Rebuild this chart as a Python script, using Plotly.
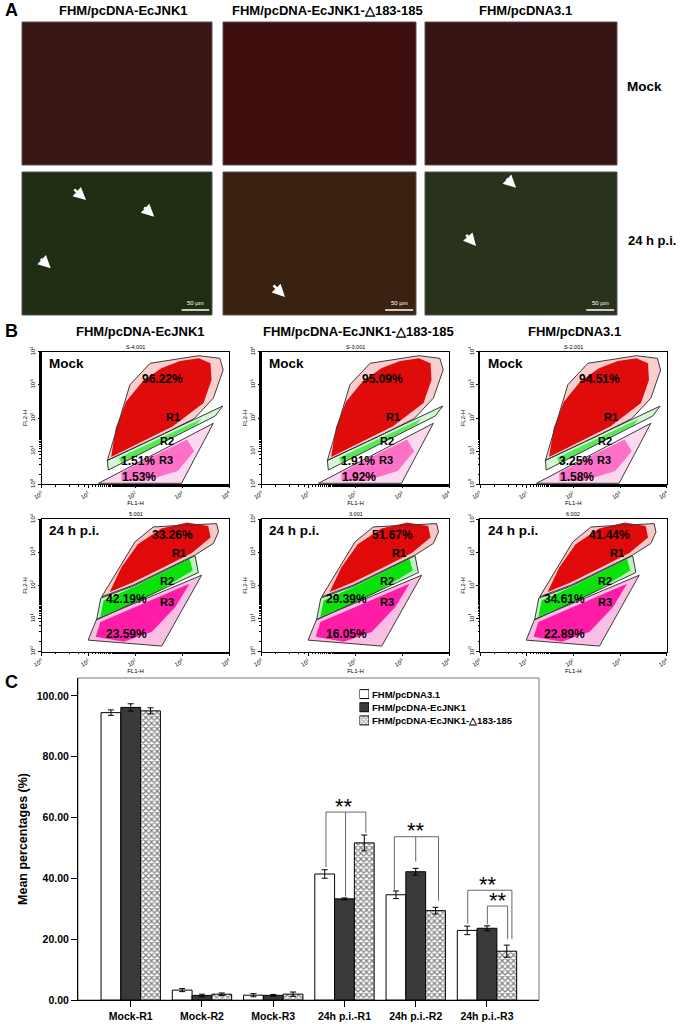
import plotly.graph_objects as go

W, H = 680, 1024
FONT = "Liberation Sans"


def fx(p):
    return p / W


def fy(p):
    return 1 - p / H


# ---------------- panel C: mean percentages ----------------
CATEGORIES = ["Mock-R1", "Mock-R2", "Mock-R3", "24h p.i.-R1", "24h p.i.-R2", "24h p.i.-R3"]
PCDNA31 = [94.51, 3.25, 1.58, 41.44, 34.61, 22.89]
PCDNA31_ERR = [0.9, 0.5, 0.5, 1.4, 1.25, 1.4]
ECJNK1 = [96.22, 1.51, 1.53, 33.26, 42.19, 23.59]
ECJNK1_ERR = [1.2, 0.4, 0.3, 0.3, 1.1, 0.8]
DELTA = [95.09, 1.91, 1.92, 51.67, 29.39, 16.05]
DELTA_ERR = [1.0, 0.4, 0.7, 2.6, 1.1, 2.0]
SERIES_NAMES = ["FHM/pcDNA3.1", "FHM/pcDNA-EcJNK1", "FHM/pcDNA-EcJNK1-△183-185"]

# significance brackets (category index + offset, heights in %)
SIG_GROUP = [3, 4, 5, 5]
SIG_LEFT = [-0.26, -0.30, -0.27, 0.005]
SIG_RIGHT = [0.30, 0.32, 0.35, 0.29]
SIG_MID = [0.015, 0.0, None, None]
SIG_TOP = [61.8, 53.7, 36.1, 30.9]
SIG_LEFT_END = [43.7, 36.2, 25.2, 24.9]
SIG_RIGHT_END = [55.0, 32.7, 20.0, 20.0]
SIG_MID_END = [34.0, 45.5, None, None]
SIG_STAR_X = [0.0, 0.0, 0.02, 0.15]

# ---------------- panel B: flow cytometry ----------------
GROUPS = ["FHM/pcDNA-EcJNK1", "FHM/pcDNA-EcJNK1-△183-185", "FHM/pcDNA3.1"]
MOCK_IDS = ["S-4.001", "S-3.001", "S-2.001"]
PI_IDS = ["5.001", "3.001", "6.002"]
MOCK_R1_PCT = [96.22, 95.09, 94.51]
MOCK_R2_PCT = [1.51, 1.91, 3.25]
MOCK_R3_PCT = [1.53, 1.92, 1.58]
PI_R1_PCT = [33.26, 51.67, 41.44]
PI_R2_PCT = [42.19, 29.39, 34.61]
PI_R3_PCT = [23.59, 16.05, 22.89]

# gates and clouds, in decades (log10 of FL1-H / FL2-H)
MOCK_R1_X = [1.40, 1.88, 2.31, 3.35, 3.80, 3.87, 3.66, 3.25, 2.50, 1.40]
MOCK_R1_Y = [0.72, 3.00, 3.65, 3.88, 3.80, 3.45, 2.60, 1.98, 1.45, 0.72]
MOCK_R2_X = [1.40, 3.86, 3.70, 1.42, 1.40]
MOCK_R2_Y = [0.72, 2.36, 2.06, 0.43, 0.72]
MOCK_R3_X = [1.21, 2.98, 3.66, 1.21]
MOCK_R3_Y = [0.03, 0.03, 1.84, 0.03]
MOCK_RED_X = [1.48, 1.58, 1.80, 2.15, 2.55, 2.95, 3.35, 3.60, 3.62, 3.45, 2.80, 2.30, 1.80, 1.48]
MOCK_RED_Y = [0.82, 1.70, 2.50, 3.10, 3.50, 3.72, 3.80, 3.65, 3.15, 2.45, 1.75, 1.40, 1.05, 0.82]
MOCK_GREEN_X = [1.65, 2.40, 3.40, 3.30, 2.40, 1.70]
MOCK_GREEN_Y = [0.80, 1.30, 1.98, 1.80, 1.15, 0.62]
MOCK_PINK_X = [1.70, 2.30, 3.10, 3.25, 2.90, 2.20, 1.70]
MOCK_PINK_Y = [0.35, 0.80, 1.35, 1.00, 0.40, 0.10, 0.10]

PI_R1_X = [1.28, 1.99, 2.38, 3.73, 3.77, 3.66, 3.27, 1.95, 1.28]
PI_R1_Y = [1.66, 3.32, 3.77, 3.87, 3.62, 3.27, 2.92, 2.01, 1.66]
PI_R2_X = [1.26, 1.95, 3.27, 3.34, 1.17, 1.26]
PI_R2_Y = [1.62, 1.98, 2.90, 2.39, 0.96, 1.62]
PI_R3_X = [0.99, 2.56, 3.41, 1.17, 0.99]
PI_R3_Y = [0.35, 0.17, 2.31, 0.98, 0.35]
PI_RED_X = [1.45, 1.70, 2.05, 2.55, 3.10, 3.55, 3.60, 3.20, 2.60, 1.95, 1.45]
PI_RED_Y = [1.80, 2.55, 3.25, 3.72, 3.90, 3.80, 3.45, 2.98, 2.55, 2.10, 1.80]
PI_GREEN_X = [1.32, 1.95, 3.15, 3.22, 2.40, 1.25]
PI_GREEN_Y = [1.55, 1.95, 2.80, 2.45, 1.75, 1.05]
PI_PINK_X = [1.25, 2.40, 3.15, 2.85, 2.35, 1.75, 1.15]
PI_PINK_Y = [0.90, 1.60, 2.05, 1.35, 0.60, 0.30, 0.45]

# label positions (decades): R1 %, R2 %, R3 %, "R1", "R2", "R3"
MOCK_LABEL_X = [2.57, 2.05, 2.07, 2.81, 2.67, 2.65]
MOCK_LABEL_Y = [3.18, 0.69, 0.23, 2.04, 1.32, 0.73]
PI_LABEL_X = [2.78, 1.81, 1.81, 2.93, 2.68, 2.68]
PI_LABEL_Y = [3.54, 1.58, 0.54, 2.99, 2.14, 1.51]

# ---------------- panel A: micrographs ----------------
IMG_COLORS_MOCK = ["#3a1515", "#3e0d0d", "#381414"]
IMG_COLORS_PI = ["#1f2d13", "#3a2211", "#29321a"]
ARROW_IMAGE = [0, 0, 0, 1, 2, 2]
ARROW_TAIL_X = [0.267, 0.635, 0.091, 0.254, 0.417, 0.208]
ARROW_TAIL_Y = [0.888, 0.762, 0.403, 0.217, 0.963, 0.571]
ARROW_HEAD_X = [0.337, 0.696, 0.151, 0.321, 0.474, 0.266]
ARROW_HEAD_Y = [0.804, 0.687, 0.327, 0.126, 0.890, 0.483]

fig = go.Figure()
annotations = []
shapes = []
layout_axes = {}

# ---- panel C bars ----
BAR_COLORS = ["white", "#3a3a3a", "white"]
BAR_PATTERNS = ["", "", "x"]
for name, vals, errs, col, pat in zip(SERIES_NAMES, [PCDNA31, ECJNK1, DELTA],
                                      [PCDNA31_ERR, ECJNK1_ERR, DELTA_ERR], BAR_COLORS, BAR_PATTERNS):
    fig.add_trace(go.Bar(
        x=CATEGORIES, y=vals, name=name, showlegend=False,
        marker=dict(color=col, line=dict(color="black", width=1),
                    pattern=dict(shape=pat, size=4, solidity=0.5, fgcolor="black", bgcolor="white")),
        error_y=dict(type="data", array=errs, color="black", thickness=1, width=3),
        xaxis="x", yaxis="y", hoverinfo="skip"))

for i in range(len(SIG_GROUP)):
    g = SIG_GROUP[i]
    xl, xr = g + SIG_LEFT[i], g + SIG_RIGHT[i]
    line = dict(color="#666", width=1)
    shapes.append(dict(type="line", xref="x", yref="y", x0=xl, x1=xr, y0=SIG_TOP[i], y1=SIG_TOP[i], line=line))
    shapes.append(dict(type="line", xref="x", yref="y", x0=xl, x1=xl, y0=SIG_TOP[i], y1=SIG_LEFT_END[i], line=line))
    shapes.append(dict(type="line", xref="x", yref="y", x0=xr, x1=xr, y0=SIG_TOP[i], y1=SIG_RIGHT_END[i], line=line))
    if SIG_MID[i] is not None:
        xm = g + SIG_MID[i]
        shapes.append(dict(type="line", xref="x", yref="y", x0=xm, x1=xm, y0=SIG_TOP[i], y1=SIG_MID_END[i], line=line))
    annotations.append(dict(text="**", xref="x", yref="y", x=g + SIG_STAR_X[i], y=SIG_TOP[i] - 2.8,
                            xanchor="center", yanchor="bottom", showarrow=False,
                            font=dict(family=FONT, size=22, color="black")))

shapes.append(dict(type="rect", xref="x domain", yref="y domain", x0=0, x1=1, y0=0, y1=1,
                   line=dict(color="#777", width=1), layer="below"))

layout_axes["xaxis"] = dict(
    domain=[fx(78), fx(539)], anchor="y", type="category", categoryorder="array",
    categoryarray=CATEGORIES, range=[-0.74, 5.73], showline=True, linecolor="black",
    linewidth=1, ticks="outside", ticklen=6, tickcolor="black", showgrid=False, automargin=False,
    tickfont=dict(family=FONT, size=10.5, color="black", weight="bold"))
layout_axes["yaxis"] = dict(
    domain=[fy(1000), fy(678)], anchor="x", range=[0, 105.9], dtick=20, tickformat=".2f",
    showline=True, linecolor="black", linewidth=1, ticks="outside", ticklen=6,
    tickcolor="black", showgrid=False, zeroline=False, automargin=False,
    tickfont=dict(family=FONT, size=10.5, color="black", weight="bold"),
    title=dict(text="Mean percentages (%)", standoff=6,
               font=dict(family=FONT, size=12.5, color="black", weight="bold")))

# manual legend: a tiny bar axis holding the three swatches
LEG = 14
fig.add_trace(go.Bar(
    x=[1, 1, 1], y=[0, 1, 2], orientation="h", width=0.68, showlegend=False, hoverinfo="skip",
    marker=dict(color=BAR_COLORS, line=dict(color="black", width=1),
                pattern=dict(shape=BAR_PATTERNS, size=3, solidity=0.5, fgcolor="black", bgcolor="white")),
    xaxis="x%d" % LEG, yaxis="y%d" % LEG))
blank = dict(showticklabels=False, ticks="", showgrid=False, zeroline=False, showline=False,
             automargin=False, fixedrange=True)
layout_axes["xaxis%d" % LEG] = dict(domain=[fx(359.5), fx(369)], anchor="y%d" % LEG, range=[0, 1], **blank)
layout_axes["yaxis%d" % LEG] = dict(domain=[fy(727), fy(687.5)], anchor="x%d" % LEG, range=[2.5, -0.5], **blank)
for k, name in enumerate(SERIES_NAMES):
    annotations.append(dict(text=name, xref="paper", yref="y%d" % LEG, x=fx(370.5), y=k,
                            xanchor="left", yanchor="middle", showarrow=False,
                            font=dict(family=FONT, size=9.5, color="black", weight="bold")))

# ---- panel B flow plots ----
B_COLS = [(41.7, 229.3), (261.7, 449.3), (480.0, 666.7)]
B_ROWS = [(351.7, 484.3), (519.3, 651.7)]
decade_vals = [1, 10, 100, 1000, 10000]
decade_text = ["10<sup>%d</sup>" % k for k in range(5)]


def dec(vs):
    return [10 ** v for v in vs]


def poly(xs, ys, n, fill=None, line=None, width=0.0):
    return go.Scatter(
        x=dec(xs), y=dec(ys), mode="lines", fill="toself" if fill else None,
        fillcolor=fill, line=dict(color=line or "rgba(0,0,0,0)", width=width),
        xaxis="x%d" % n, yaxis="y%d" % n, showlegend=False, hoverinfo="skip")


templates = [
    dict(r1=(MOCK_R1_X, MOCK_R1_Y), r2=(MOCK_R2_X, MOCK_R2_Y), r3=(MOCK_R3_X, MOCK_R3_Y),
         red=(MOCK_RED_X, MOCK_RED_Y), green=(MOCK_GREEN_X, MOCK_GREEN_Y), pink=(MOCK_PINK_X, MOCK_PINK_Y),
         lx=MOCK_LABEL_X, ly=MOCK_LABEL_Y, pct=[MOCK_R1_PCT, MOCK_R2_PCT, MOCK_R3_PCT],
         ids=MOCK_IDS, tag="Mock", halo=(0.22, 0.2, 0.18), core=(0.95, 0.6, 0.5)),
    dict(r1=(PI_R1_X, PI_R1_Y), r2=(PI_R2_X, PI_R2_Y), r3=(PI_R3_X, PI_R3_Y),
         red=(PI_RED_X, PI_RED_Y), green=(PI_GREEN_X, PI_GREEN_Y), pink=(PI_PINK_X, PI_PINK_Y),
         lx=PI_LABEL_X, ly=PI_LABEL_Y, pct=[PI_R1_PCT, PI_R2_PCT, PI_R3_PCT],
         ids=PI_IDS, tag="24 h p.i.", halo=(0.25, 0.3, 0.3), core=(0.95, 0.95, 0.9)),
]

for r, t in enumerate(templates):
    for c in range(3):
        n = 2 + r * 3 + c
        ha, hb, hc = t["halo"]
        ca, cb, cc = t["core"]
        fig.add_trace(poly(*t["r1"], n, fill="rgba(230,30,30,%.2f)" % ha))
        fig.add_trace(poly(*t["r2"], n, fill="rgba(40,220,40,%.2f)" % hb))
        fig.add_trace(poly(*t["r3"], n, fill="rgba(240,40,170,%.2f)" % hc))
        fig.add_trace(poly(*t["red"], n, fill="rgba(222,0,0,%.2f)" % ca))
        fig.add_trace(poly(*t["green"], n, fill="rgba(0,225,0,%.2f)" % cb))
        fig.add_trace(poly(*t["pink"], n, fill="rgba(255,10,160,%.2f)" % cc))
        for key in ("r1", "r2", "r3"):
            fig.add_trace(poly(*t[key], n, line="#3a3a3a", width=1))

        x0, x1 = B_COLS[c]
        y0, y1 = B_ROWS[r]
        tick = dict(tickfont=dict(family=FONT, size=6, color="black"), ticks="outside",
                    ticklen=3, tickcolor="black", showgrid=False, zeroline=False,
                    showline=True, linecolor="black", linewidth=1, mirror=True, automargin=False,
                    minor=dict(ticks="outside", ticklen=1.5, tickcolor="black", showgrid=False))
        layout_axes["xaxis%d" % n] = dict(
            domain=[fx(x0), fx(x1)], anchor="y%d" % n, type="log", range=[0, 4],
            tickvals=decade_vals, ticktext=decade_text, tickangle=-30,
            title=dict(text="FL1-H", standoff=0, font=dict(family=FONT, size=6, color="black")), **tick)
        layout_axes["yaxis%d" % n] = dict(
            domain=[fy(y1), fy(y0)], anchor="x%d" % n, type="log", range=[0, 4],
            tickvals=decade_vals, ticktext=decade_text, tickangle=-90,
            title=dict(text="FL2-H", standoff=0, font=dict(family=FONT, size=6, color="black")), **tick)

        xr, yr = "x%d" % n, "y%d" % n
        labels = ["%.2f%%" % t["pct"][0][c], "%.2f%%" % t["pct"][1][c], "%.2f%%" % t["pct"][2][c],
                  "R1", "R2", "R3"]
        for k, txt in enumerate(labels):
            annotations.append(dict(text=txt, xref=xr, yref=yr, x=t["lx"][k], y=t["ly"][k],
                                    showarrow=False, xanchor="center", yanchor="middle",
                                    font=dict(family=FONT, size=12 if k < 3 else 11,
                                              color="black", weight="bold")))
        annotations.append(dict(text=t["tag"], xref=xr + " domain", yref=yr + " domain",
                                x=0.03, y=0.985, xanchor="left", yanchor="top", showarrow=False,
                                font=dict(family=FONT, size=13.5, color="black", weight="bold")))
        annotations.append(dict(text=t["ids"][c], xref=xr + " domain", yref=yr + " domain",
                                x=0.5, y=1.0, xanchor="center", yanchor="bottom", showarrow=False,
                                font=dict(family=FONT, size=5.5, color="black")))

B_TITLE_X = [140, 358, 574]
for c, g in enumerate(GROUPS):
    annotations.append(dict(text=g, xref="paper", yref="paper", x=fx(B_TITLE_X[c]), y=fy(331),
                            xanchor="center", yanchor="middle", showarrow=False,
                            font=dict(family=FONT, size=13, color="black", weight="bold")))

# ---- panel A micrographs ----
A_COLS = [(22, 212), (223, 416), (425, 617)]
A_ROWS = [(22, 165), (172, 315)]
A_TITLE_X = [123, 327, 525]
for r in range(2):
    for c in range(3):
        n = 8 + r * 3 + c
        x0, x1 = A_COLS[c]
        y0, y1 = A_ROWS[r]
        fig.add_trace(go.Scatter(x=[None], y=[None], mode="markers", showlegend=False,
                                 hoverinfo="skip", xaxis="x%d" % n, yaxis="y%d" % n))
        layout_axes["xaxis%d" % n] = dict(domain=[fx(x0), fx(x1)], anchor="y%d" % n, range=[0, 1], **blank)
        layout_axes["yaxis%d" % n] = dict(domain=[fy(y1), fy(y0)], anchor="x%d" % n, range=[0, 1], **blank)
        color = IMG_COLORS_MOCK[c] if r == 0 else IMG_COLORS_PI[c]
        shapes.append(dict(type="rect", xref="x%d domain" % n, yref="y%d domain" % n,
                           x0=0, x1=1, y0=0, y1=1, fillcolor=color, layer="below",
                           line=dict(color="#555", width=1)))
        if r == 1:
            shapes.append(dict(type="line", xref="x%d domain" % n, yref="y%d domain" % n,
                               x0=0.84, x1=0.985, y0=0.035, y1=0.035,
                               line=dict(color="white", width=1.5)))
            annotations.append(dict(text="50 µm", xref="x%d domain" % n, yref="y%d domain" % n,
                                    x=0.912, y=0.05, xanchor="center", yanchor="bottom",
                                    showarrow=False, font=dict(family=FONT, size=6, color="white")))

for i in range(len(ARROW_IMAGE)):
    n = 11 + ARROW_IMAGE[i]
    annotations.append(dict(text="", xref="x%d" % n, yref="y%d" % n, axref="x%d" % n, ayref="y%d" % n,
                            x=ARROW_HEAD_X[i], y=ARROW_HEAD_Y[i], ax=ARROW_TAIL_X[i], ay=ARROW_TAIL_Y[i],
                            showarrow=True, arrowhead=2, arrowsize=1, arrowwidth=2.5, arrowcolor="white"))

for c, g in enumerate(GROUPS):
    annotations.append(dict(text=g, xref="paper", yref="paper", x=fx(A_TITLE_X[c]), y=fy(10),
                            xanchor="center", yanchor="middle", showarrow=False,
                            font=dict(family=FONT, size=13, color="black", weight="bold")))
annotations.append(dict(text="Mock", xref="paper", yref="paper", x=fx(625), y=fy(86),
                        xanchor="left", yanchor="middle", showarrow=False,
                        font=dict(family=FONT, size=13.5, color="black", weight="bold")))
annotations.append(dict(text="24 h p.i.", xref="paper", yref="paper", x=fx(626), y=fy(240),
                        xanchor="left", yanchor="middle", showarrow=False,
                        font=dict(family=FONT, size=13, color="black", weight="bold")))

for letter, py in (("A", 10), ("B", 331), ("C", 682)):
    annotations.append(dict(text=letter, xref="paper", yref="paper", x=fx(3), y=fy(py),
                            xanchor="left", yanchor="middle", showarrow=False,
                            font=dict(family=FONT, size=18, color="black", weight="bold")))

fig.update_layout(
    width=W, height=H, margin=dict(l=0, r=0, t=0, b=0),
    paper_bgcolor="white", plot_bgcolor="white", showlegend=False,
    barmode="group", bargap=0.167, bargroupgap=0,
    font=dict(family=FONT, color="black"),
    annotations=annotations, shapes=shapes, **layout_axes)

# the page's default body margin would push the figure 8 px right and down
fig.write_html("out.html", config={"displayModeBar": False},
               post_script="document.body.style.margin='0';")
